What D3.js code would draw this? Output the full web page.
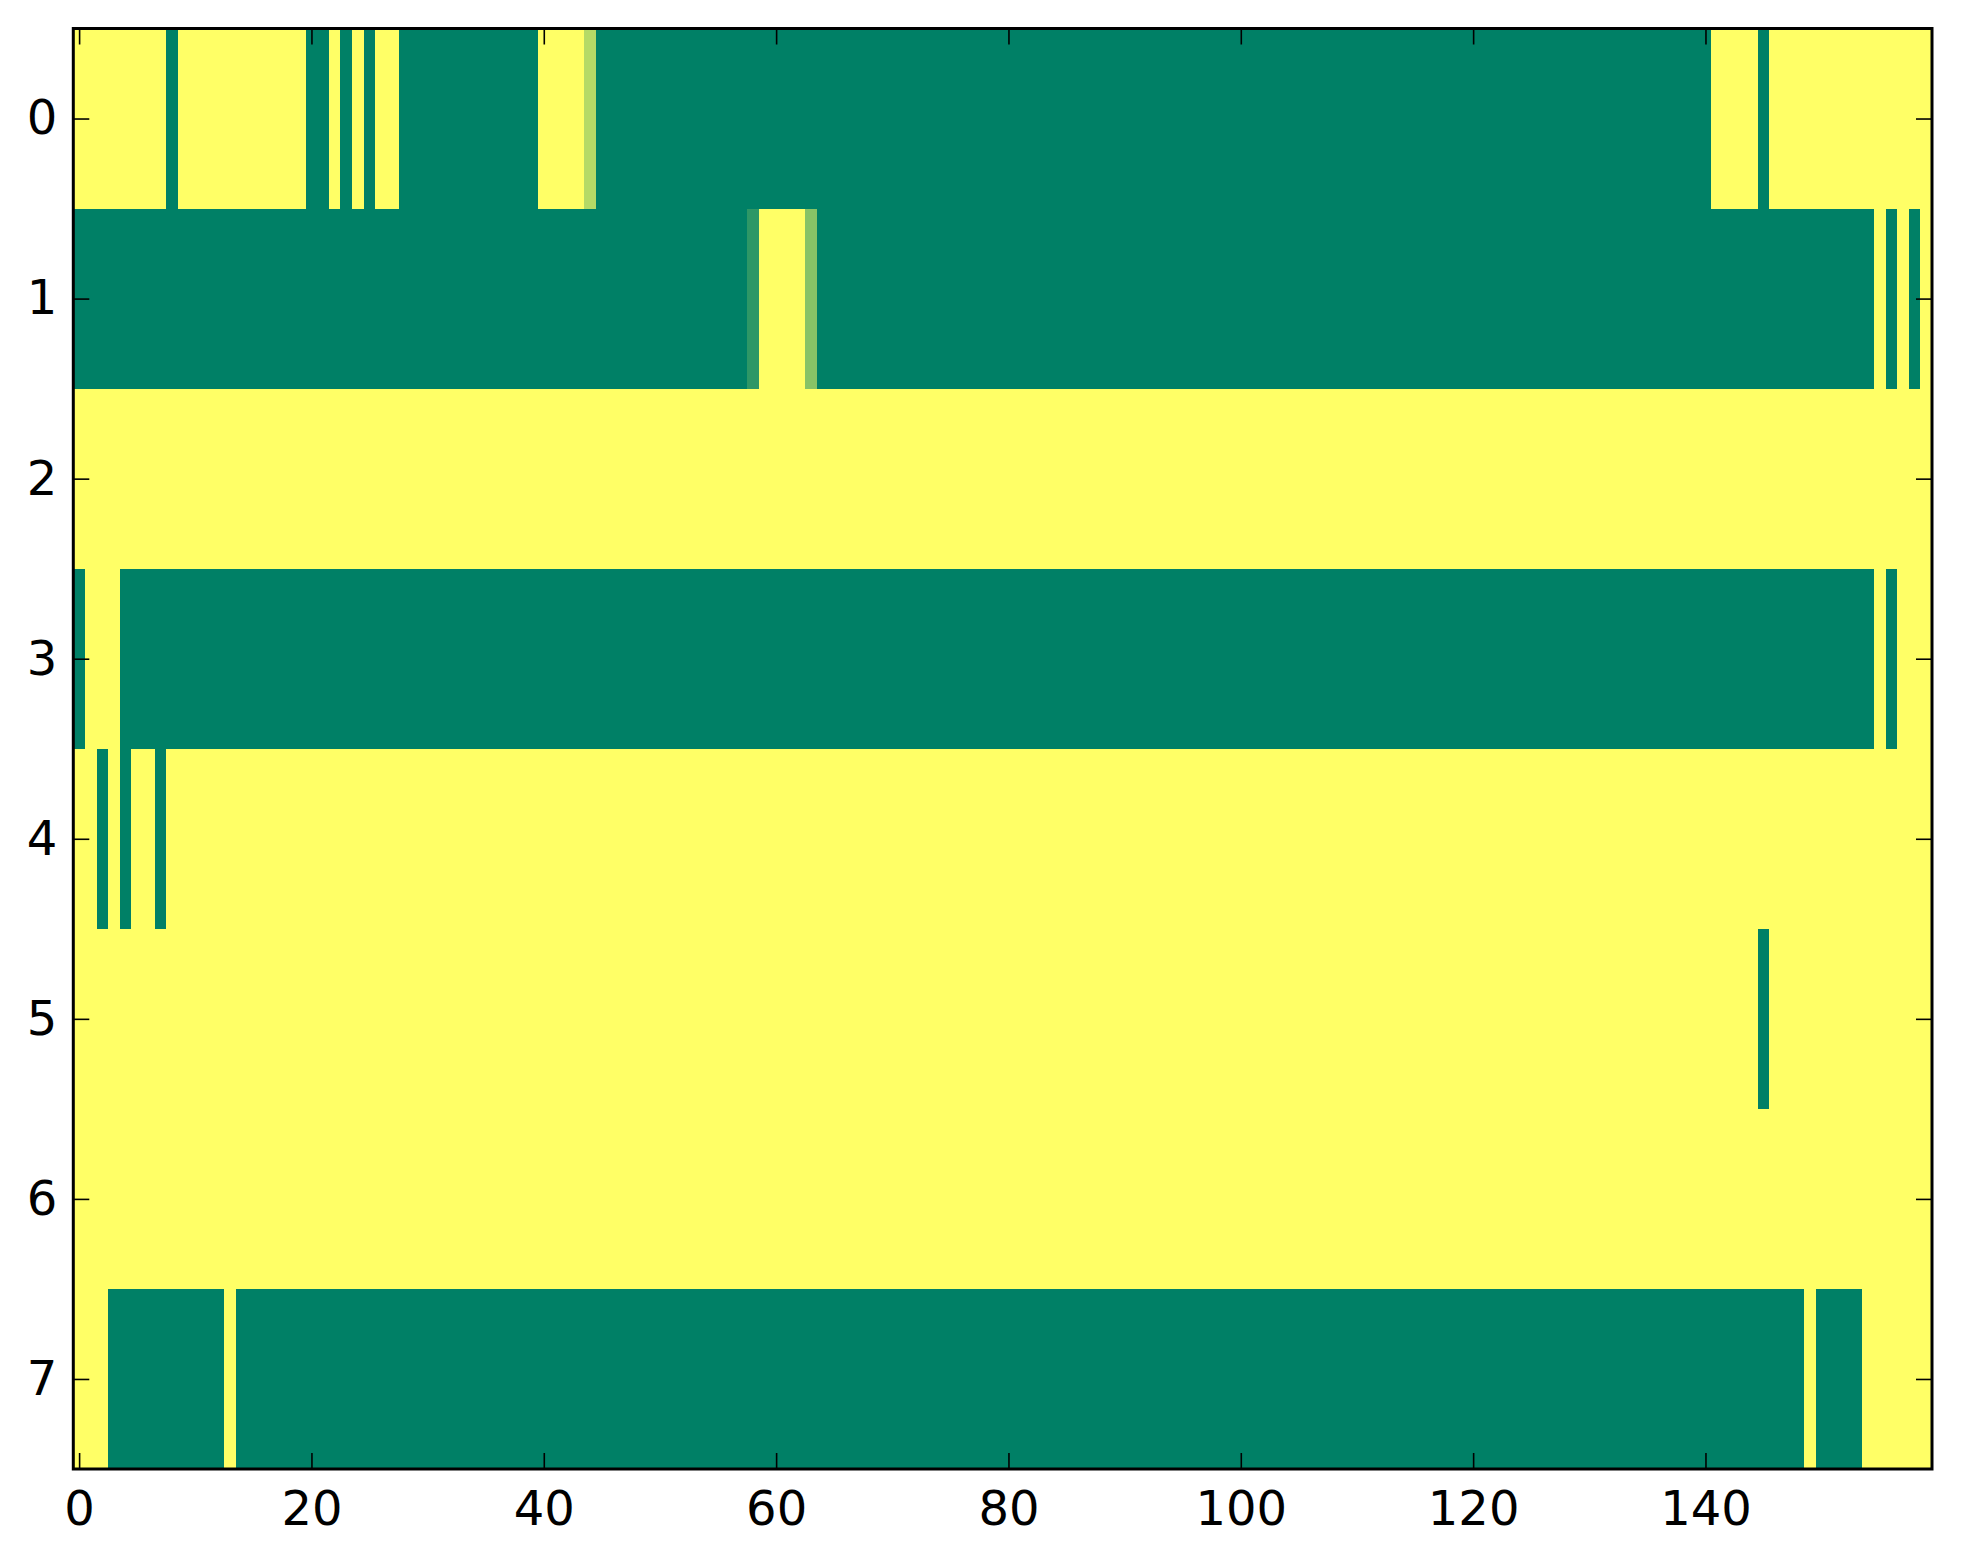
<!DOCTYPE html>
<html>
<head>
<meta charset="utf-8">
<script src="https://cdn.jsdelivr.net/npm/d3@7"></script>
<style>
  body { margin: 0; background: #fff; }
  .tick text { font-family: "DejaVu Sans", sans-serif; font-size: 48px; fill: #000; }
</style>
</head>
<body>
<div id="chart"></div>
<script>
// each row is a list of [value, run length] read left to right (160 columns)
const row0 = [[1,8],[0,1],[1,11],[0,2],[1,1],[0,1],[1,1],[0,1],[1,2],[0,12],[1,4],[0.71,1],[0,96],[1,4],[0,1],[1,14]];
const row1 = [[0,58],[0.18,1],[1,4],[0.53,1],[0,91],[1,1],[0,1],[1,1],[0,1],[1,1]];
const row2 = [[1,160]];
const row3 = [[0,1],[1,3],[0,151],[1,1],[0,1],[1,3]];
const row4 = [[1,2],[0,1],[1,1],[0,1],[1,2],[0,1],[1,152]];
const row5 = [[1,145],[0,1],[1,14]];
const row6 = [[1,160]];
const row7 = [[1,3],[0,10],[1,1],[0,135],[1,1],[0,4],[1,6]];
const rows = [row0, row1, row2, row3, row4, row5, row6, row7];

const xTicks = [0, 20, 40, 60, 80, 100, 120, 140];
const yTicks = [0, 1, 2, 3, 4, 5, 6, 7];

const W = 1963, H = 1564;
const plotL = 73.3, plotR = 1932, plotT = 28.5, plotB = 1469;
const nCols = 160;

const x = d3.scaleLinear().domain([-0.5, nCols - 0.5]).range([plotL, plotR]);
const y = d3.scaleLinear().domain([-0.5, rows.length - 0.5]).range([plotT, plotB]);
// matplotlib "summer" colormap
const color = d3.scaleLinear().domain([0, 1]).range(["#008066", "#ffff66"]);

const svg = d3.select("#chart")
  .append("svg")
  .attr("width", W)
  .attr("height", H);

// expand runs into cells
const cells = [];
rows.forEach((runs, r) => {
  let c = 0;
  runs.forEach(([v, n]) => {
    for (let k = 0; k < n; k++) cells.push({ r: r, c: c++, v: v });
  });
});

svg.append("g")
  .attr("shape-rendering", "crispEdges")
  .selectAll("rect")
  .data(cells)
  .join("rect")
  .attr("x", d => x(d.c - 0.5))
  .attr("y", d => y(d.r - 0.5))
  .attr("width", d => x(d.c + 0.5) - x(d.c - 0.5) + 0.6)
  .attr("height", d => y(d.r + 0.5) - y(d.r - 0.5) + 0.6)
  .attr("fill", d => color(d.v));

function styleAxis(g) {
  g.select(".domain").remove();
  g.selectAll(".tick line").attr("stroke", "#000").attr("stroke-width", 1.6);
}

const tick = 16;

svg.append("g")
  .attr("transform", `translate(0,${plotB})`)
  .call(d3.axisBottom(x).tickValues(xTicks).tickSizeInner(-tick).tickSizeOuter(0).tickPadding(22))
  .call(styleAxis);

svg.append("g")
  .attr("transform", `translate(0,${plotT})`)
  .call(d3.axisTop(x).tickValues(xTicks).tickSizeInner(-tick).tickSizeOuter(0).tickFormat(""))
  .call(styleAxis);

svg.append("g")
  .attr("transform", `translate(${plotL},0)`)
  .call(d3.axisLeft(y).tickValues(yTicks).tickSizeInner(-tick).tickSizeOuter(0).tickPadding(16))
  .call(styleAxis);

svg.append("g")
  .attr("transform", `translate(${plotR},0)`)
  .call(d3.axisRight(y).tickValues(yTicks).tickSizeInner(-tick).tickSizeOuter(0).tickFormat(""))
  .call(styleAxis);

svg.selectAll(".tick text").attr("font-family", null).attr("font-size", null);

// frame
svg.append("rect")
  .attr("x", plotL)
  .attr("y", plotT)
  .attr("width", plotR - plotL)
  .attr("height", plotB - plotT)
  .attr("fill", "none")
  .attr("stroke", "#000")
  .attr("stroke-width", 3);
</script>
</body>
</html>
